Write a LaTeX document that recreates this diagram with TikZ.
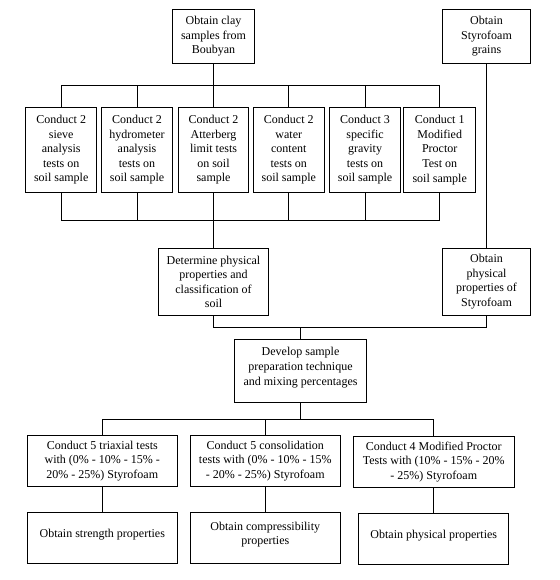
\documentclass[tikz,border=0pt]{standalone}
\usepackage{fontspec}
\setmainfont{Liberation Serif}
\begin{document}
\begin{tikzpicture}[x=1pt,y=-1pt,
  box/.style={draw=black, line width=0.9pt, rectangle, inner sep=0pt, align=center,
    font=\rmfamily\fontsize{12}{14.6}\selectfont, text=black},
  link/.style={draw=black, line width=0.9pt}]
\useasboundingbox[fill=white] (0,0) rectangle (559,580);
% top row
\node[box, minimum width=82.4pt, minimum height=54pt] (clay) at (213.5,36.3) {Obtain clay\\samples from\\Boubyan};
\node[box, minimum width=88.4pt, minimum height=54pt] (styro) at (486.5,36.3) {Obtain\\Styrofoam\\grains};
% tests row
\node[box, minimum width=71pt, minimum height=85pt] (r1) at (61.2,149.8) {Conduct 2\\sieve\\analysis\\tests on\\soil sample};
\node[box, minimum width=71.4pt, minimum height=85pt] (r2) at (137,149.8) {Conduct 2\\hydrometer\\analysis\\tests on\\soil sample};
\node[box, minimum width=70.4pt, minimum height=85pt] (r3) at (213.5,149.8) {Conduct 2\\Atterberg\\limit tests\\on soil\\sample};
\node[box, minimum width=71pt, minimum height=85pt] (r4) at (288.8,149.8) {Conduct 2\\water\\content\\tests on\\soil sample};
\node[box, minimum width=70.6pt, minimum height=85pt] (r5) at (365,149.8) {Conduct 3\\specific\\gravity\\tests on\\soil sample};
\node[box, minimum width=72pt, minimum height=85.5pt] (r6) at (439.7,150) {Conduct 1\\Modified\\Proctor\\Test on\\soil sample};
% properties row
\node[box, minimum width=109.4pt, minimum height=67pt] (det) at (213.5,281.8) {Determine physical\\properties and\\classification of\\soil};
\node[box, minimum width=87.4pt, minimum height=67pt] (ophys) at (486.5,281.8) {Obtain\\physical\\properties of\\Styrofoam};
% develop
\node[box, minimum width=131.6pt, minimum height=62.8pt, text depth=9pt] (dev) at (300.5,370.9) {Develop sample\\preparation technique\\and mixing percentages};
% mixture tests
\node[box, minimum width=150pt, minimum height=50.6pt] (A) at (102.3,461) {Conduct 5 triaxial tests\\with (0\% - 10\% - 15\% -\\20\% - 25\%) Styrofoam};
\node[box, minimum width=150pt, minimum height=50.6pt] (B) at (265.3,461) {Conduct 5 consolidation\\tests with (0\% - 10\% - 15\%\\- 20\% - 25\%) Styrofoam};
\node[box, minimum width=161pt, minimum height=50.3pt] (C) at (433.8,461.9) {Conduct 4 Modified Proctor\\Tests with (10\% - 15\% - 20\%\\- 25\%) Styrofoam};
% results
\node[box, minimum width=150pt, minimum height=50.7pt, text depth=9pt] (A2) at (102.3,537.7) {Obtain strength properties};
\node[box, minimum width=150pt, minimum height=50.7pt, text depth=9pt] (B2) at (265.3,537.7) {Obtain compressibility\\properties};
\node[box, minimum width=150pt, minimum height=50.7pt, text depth=9pt] (C2) at (433.8,538.7) {Obtain physical properties};
% junction coordinates
\coordinate (t1) at (213.5,85.3);
\coordinate (t2) at (213.5,220.3);
\coordinate (t3) at (300.5,327);
\coordinate (t4) at (300.5,419.3);
% connectors
\draw[link] (clay.south) -- (t1);
\foreach \n in {r1,r2,r3,r4,r5,r6} {
  \draw[link] (\n.north) |- (t1);
  \draw[link] (\n.south) |- (t2);
}
\draw[link] (t2) -- (det.north);
\draw[link] (styro.south) -- (ophys.north);
\draw[link] (det.south) |- (t3);
\draw[link] (ophys.south) |- (t3);
\draw[link] (t3) -- (dev.north);
\draw[link] (dev.south) -- (t4);
\draw[link] (A.north) |- (t4);
\draw[link] (B.north) |- (t4);
\draw[link] (C.north) |- (t4);
\draw[link] (A.south) -- (A2.north);
\draw[link] (B.south) -- (B2.north);
\draw[link] (C.south) -- (C2.north);
\end{tikzpicture}
\end{document}
